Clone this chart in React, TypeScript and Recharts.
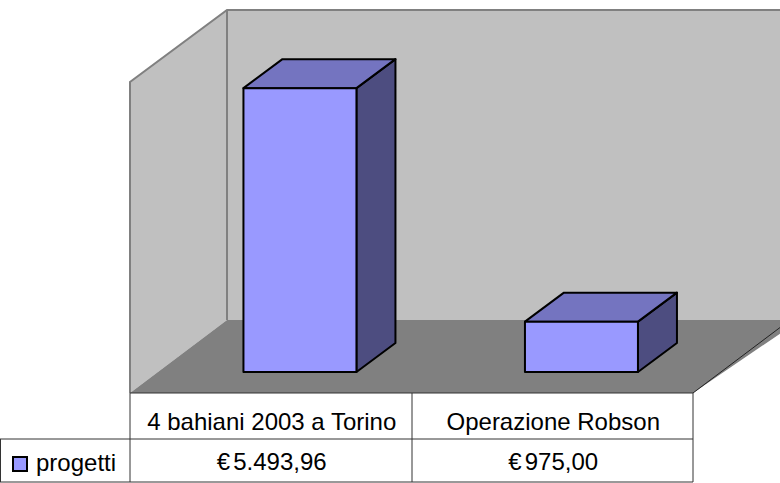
import React from 'react';
import { BarChart, Bar, XAxis, YAxis, Customized } from 'recharts';

const categories = ['4 bahiani 2003 a Torino', 'Operazione Robson'];
const progetti = [5493.96, 975.0];
const seriesName = 'progetti';
const yDomain = [0, 6000];

const data = categories.map((name, i) => ({ name, progetti: progetti[i] }));

const W = 780;
const H = 483;
const AXIS_H = 111;
const MARGIN = { top: 62, right: 58, bottom: 0, left: 159 };
const FONT = '"Liberation Sans", Arial, sans-serif';

// depth projection of the floor (front edge -> back wall)
const FLOOR_FRONT_Y = 393;
const FLOOR_BACK_Y = 320;
const FRONT_X0 = 130;
const BACK_X0 = 227;
const WALL_TOP = 10;
const TABLE_MID = 439;
const TABLE_BOTTOM = 482;
const TABLE_RIGHT = 693;
const SHIFT = 28; // shift from bar front plane to floor front plane

function fmt(v: number): string {
  const [i, d] = v.toFixed(2).split('.');
  const withDots = i.replace(/\B(?=(\d{3})+(?!\d))/g, '.');
  return withDots + ',' + d;
}

function Walls() {
  return (
    <g>
      {/* back wall */}
      <polygon
        points={`${BACK_X0},${WALL_TOP} ${W + 20},${WALL_TOP} ${W + 20},${FLOOR_BACK_Y} ${BACK_X0},${FLOOR_BACK_Y}`}
        fill="#C0C0C0"
      />
      {/* left wall */}
      <polygon
        points={`${FRONT_X0},82 ${BACK_X0},${WALL_TOP} ${BACK_X0},${FLOOR_BACK_Y} ${FRONT_X0},${FLOOR_FRONT_Y}`}
        fill="#C0C0C0"
      />
      {/* floor */}
      <polygon
        points={`${FRONT_X0},${FLOOR_FRONT_Y} ${BACK_X0},${FLOOR_BACK_Y} ${W + 20},${FLOOR_BACK_Y} ${TABLE_RIGHT},${FLOOR_FRONT_Y}`}
        fill="#808080"
      />
      {/* wall edges */}
      <polyline
        points={`${FRONT_X0},${FLOOR_FRONT_Y} ${FRONT_X0},82 ${BACK_X0},${WALL_TOP} ${W + 20},${WALL_TOP}`}
        fill="none"
        stroke="#808080"
        strokeWidth={2}
      />
      <line x1={BACK_X0} y1={WALL_TOP} x2={BACK_X0} y2={FLOOR_BACK_Y} stroke="#808080" strokeWidth={2} />
      <line x1={TABLE_RIGHT} y1={FLOOR_FRONT_Y} x2={TABLE_RIGHT + 97} y2={FLOOR_BACK_Y} stroke="#222" strokeWidth={1} />
    </g>
  );
}

function Table() {
  const stroke = '#333';
  return (
    <g>
      <line x1={FRONT_X0} y1={FLOOR_FRONT_Y} x2={TABLE_RIGHT} y2={FLOOR_FRONT_Y} stroke={stroke} strokeWidth={1} />
      <line x1={0} y1={TABLE_MID} x2={TABLE_RIGHT} y2={TABLE_MID} stroke={stroke} strokeWidth={1} />
      <line x1={0} y1={TABLE_BOTTOM} x2={TABLE_RIGHT} y2={TABLE_BOTTOM} stroke={stroke} strokeWidth={1} />
      <line x1={0.5} y1={TABLE_MID} x2={0.5} y2={TABLE_BOTTOM} stroke={stroke} strokeWidth={1} />
      <line x1={FRONT_X0} y1={FLOOR_FRONT_Y} x2={FRONT_X0} y2={TABLE_BOTTOM} stroke={stroke} strokeWidth={1} />
      <line x1={412} y1={FLOOR_FRONT_Y} x2={412} y2={TABLE_BOTTOM} stroke={stroke} strokeWidth={1} />
      <line x1={TABLE_RIGHT} y1={FLOOR_FRONT_Y} x2={TABLE_RIGHT} y2={TABLE_BOTTOM} stroke={stroke} strokeWidth={1} />
      <rect x={13} y={457} width={14} height={14} fill="#9999FF" stroke="#000" strokeWidth={2} />
      <text x={36} y={471} fontFamily={FONT} fontSize={24} fill="#000">
        {seriesName}
      </text>
    </g>
  );
}

function Box(props: any) {
  const { x, y, width, height, fill } = props;
  if (width == null || height == null) return null;
  const dx = 39;
  const dy = 29;
  const sw = 2;
  return (
    <g strokeLinejoin="round">
      <polygon
        points={`${x + width},${y} ${x + width + dx},${y - dy} ${x + width + dx},${y + height - dy} ${x + width},${y + height}`}
        fill="#4D4D80"
        stroke="#000"
        strokeWidth={sw}
      />
      <polygon
        points={`${x},${y} ${x + dx},${y - dy} ${x + width + dx},${y - dy} ${x + width},${y}`}
        fill="#7474C0"
        stroke="#000"
        strokeWidth={sw}
      />
      <rect x={x} y={y} width={width} height={height} fill={fill} stroke="#000" strokeWidth={sw} />
    </g>
  );
}

function TableTick(props: any) {
  const { x, payload } = props;
  const idx = payload.index;
  const cx = x - SHIFT;
  const val = progetti[idx];
  return (
    <g>
      <text x={cx} y={430} textAnchor="middle" fontFamily={FONT} fontSize={24} fill="#000">
        {payload.value}
      </text>
      <text x={cx} y={470} textAnchor="middle" fontFamily={FONT} fontSize={24} fill="#000">
        €<tspan dx={3}>{fmt(val)}</tspan>
      </text>
    </g>
  );
}

export default function App() {
  return (
    <div style={{ position: 'absolute', left: 0, top: 0, width: W, height: H, background: '#fff' }}>
      <BarChart width={W} height={H} data={data} margin={MARGIN} barCategoryGap="30%">
        <Customized component={<Walls />} />
        <XAxis
          dataKey="name"
          height={AXIS_H}
          axisLine={false}
          tickLine={false}
          tick={<TableTick />}
          interval={0}
        />
        <YAxis hide domain={yDomain} />
        <Customized component={<Table />} />
        <Bar dataKey="progetti" fill="#9999FF" shape={<Box />} isAnimationActive={false} />
      </BarChart>
    </div>
  );
}
